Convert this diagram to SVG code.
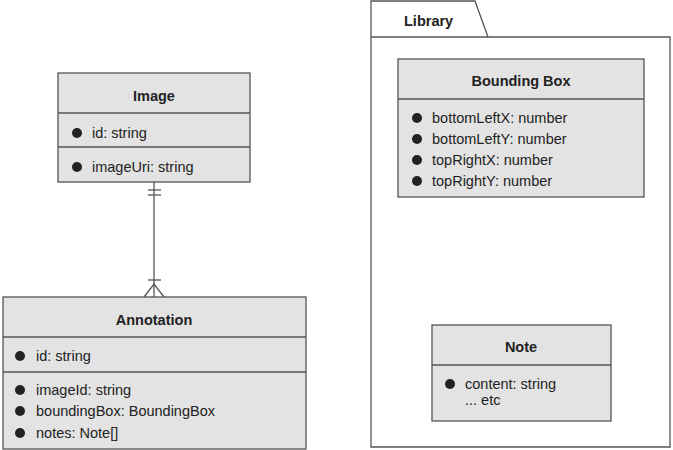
<svg xmlns="http://www.w3.org/2000/svg" width="673" height="450" viewBox="0 0 673 450">
<style>
.box{fill:#e3e3e3;stroke:#555;stroke-width:1.3}
.ln{stroke:#555;stroke-width:1.3;fill:none}
.t{font-family:"Liberation Sans",Arial,sans-serif;font-size:14.5px;fill:#222}
.h{font-family:"Liberation Sans",Arial,sans-serif;font-size:14.5px;font-weight:bold;fill:#222;text-anchor:middle}
.b{fill:#222}
</style>
<rect width="673" height="450" fill="#fff"/>
<g id="library">
<path class="ln" d="M371 447 V1 H475 L488 37 H670 V447 Z" fill="#fff"/>
<line class="ln" x1="371" y1="37" x2="488" y2="37"/>
<text class="t" x="404" y="26" font-weight="bold" font-size="14">Library</text>
</g>
<g id="connectors">
<line class="ln" x1="154" y1="182" x2="154" y2="297"/>
<line class="ln" x1="148" y1="190" x2="161" y2="190"/>
<line class="ln" x1="148" y1="195" x2="161" y2="195"/>
<line class="ln" x1="148" y1="280" x2="161" y2="280"/>
<path class="ln" d="M144 297 L154 284 L164 297"/>
</g>
<g id="image">
<rect class="box" x="58" y="73" width="192" height="109"/>
<line class="ln" x1="58" y1="113" x2="250" y2="113"/>
<line class="ln" x1="58" y1="147" x2="250" y2="147"/>
<text class="h" x="154" y="101">Image</text>
<circle class="b" cx="77" cy="133" r="5"/>
<text class="t" x="92" y="138">id: string</text>
<circle class="b" cx="77" cy="167" r="5"/>
<text class="t" x="92" y="172">imageUri: string</text>
</g>
<g id="annotation">
<rect class="box" x="3" y="297" width="303" height="152"/>
<line class="ln" x1="3" y1="337" x2="306" y2="337"/>
<line class="ln" x1="3" y1="372" x2="306" y2="372"/>
<text class="h" x="154" y="325">Annotation</text>
<circle class="b" cx="20" cy="356" r="5"/>
<text class="t" x="36" y="361">id: string</text>
<circle class="b" cx="20" cy="390" r="5"/>
<text class="t" x="36" y="395">imageId: string</text>
<circle class="b" cx="20" cy="411" r="5"/>
<text class="t" x="36" y="416">boundingBox: BoundingBox</text>
<circle class="b" cx="20" cy="433" r="5"/>
<text class="t" x="36" y="438">notes: Note[]</text>
</g>
<g id="boundingbox">
<rect class="box" x="398" y="59" width="246" height="138"/>
<line class="ln" x1="398" y1="99" x2="644" y2="99"/>
<text class="h" x="521" y="86">Bounding Box</text>
<circle class="b" cx="417" cy="118" r="5"/>
<text class="t" x="432" y="123">bottomLeftX: number</text>
<circle class="b" cx="417" cy="139" r="5"/>
<text class="t" x="432" y="144">bottomLeftY: number</text>
<circle class="b" cx="417" cy="160" r="5"/>
<text class="t" x="432" y="165">topRightX: number</text>
<circle class="b" cx="417" cy="181" r="5"/>
<text class="t" x="432" y="186">topRightY: number</text>
</g>
<g id="note">
<rect class="box" x="432" y="325" width="179" height="96"/>
<line class="ln" x1="432" y1="365" x2="611" y2="365"/>
<text class="h" x="521" y="352">Note</text>
<circle class="b" cx="450" cy="384" r="5"/>
<text class="t" x="465" y="389">content: string</text>
<text class="t" x="465" y="405">... etc</text>
</g>
</svg>
